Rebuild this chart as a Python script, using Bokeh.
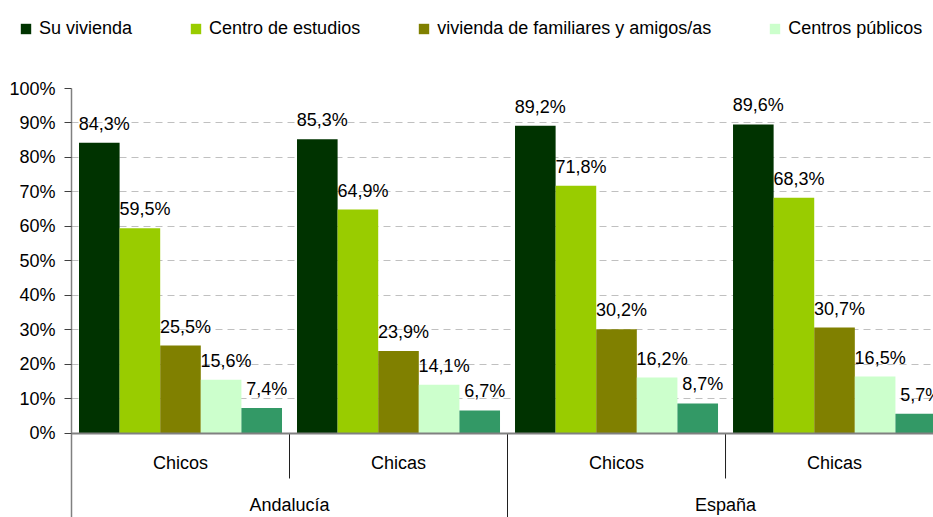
import numpy as np
from bokeh.plotting import figure
from bokeh.layouts import column
from bokeh.models import (ColumnDataSource, Range1d, FixedTicker, Span,
                          CustomJSTickFormatter, Legend, LegendItem)
from bokeh.core.properties import value
from bokeh.embed import file_html
from bokeh.resources import INLINE

# ---- data ----
regions = ["Andalucía", "España"]
sexes = ["Chicos", "Chicas", "Chicos", "Chicas"]
series_names = ["Su vivienda", "Centro de estudios", "vivienda de familiares y amigos/as",
                "Centros públicos", "Otros"]
su_vivienda = [84.3, 85.3, 89.2, 89.6]
centro_estudios = [59.5, 64.9, 71.8, 68.3]
vivienda_familiares = [25.5, 23.9, 30.2, 30.7]
centros_publicos = [15.6, 14.1, 16.2, 16.5]
otros = [7.4, 6.7, 8.7, 5.7]
y_ticks = [0, 10, 20, 30, 40, 50, 60, 70, 80, 90, 100]

series_values = [su_vivienda, centro_estudios, vivienda_familiares, centros_publicos, otros]
colors = ["#003300", "#99cc00", "#808000", "#ccffcc", "#339966"]
n_legend = 4  # only the first four entries are visible in the original

FONT = "Liberation Sans"
FS = "18px"

W = 933
TOP_H = 76
H = 441

# ---- legend strip ----
top = figure(width=W, height=TOP_H, output_backend="svg", toolbar_location=None,
             x_range=Range1d(0, 1), y_range=Range1d(0, 1),
             x_axis_location=None, y_axis_location=None, min_border=0)
top.outline_line_color = None
top.grid.visible = False
try:
    top.frame_align = False
except Exception:
    pass
items = []
for name, col in list(zip(series_names, colors))[:n_legend]:
    r = top.vbar(x=[0], top=[0], bottom=[0], width=0.001, fill_color=col, line_color=None)
    items.append(LegendItem(label=name, renderers=[r]))
lg = Legend(items=items, orientation="horizontal", location=(19, 37),
            padding=0, margin=0, spacing=57, glyph_width=13, glyph_height=13,
            label_standoff=7, border_line_color=None, background_fill_alpha=0,
            label_text_font=FONT, label_text_font_size=FS, label_text_color="black")
top.add_layout(lg, "center")

# ---- chart ----
p = figure(width=W, height=H, output_backend="svg", toolbar_location=None,
           x_range=Range1d(0, 3.954), y_range=Range1d(-24.35, 100),
           x_axis_location=None, min_border_left=71, min_border_top=12,
           min_border_right=0, min_border_bottom=0)
p.outline_line_color = None
try:
    p.frame_align = False
except Exception:
    pass

ya = p.yaxis[0]
ya.ticker = FixedTicker(ticks=y_ticks, minor_ticks=[])
ya.formatter = CustomJSTickFormatter(code="return tick.toFixed(0) + '%';")
ya.major_label_text_font = FONT
ya.major_label_text_font_size = FS
ya.major_label_text_color = "black"
ya.major_label_standoff = 9
ya.major_tick_out = 7
ya.major_tick_in = 0
ya.major_tick_line_color = "#404040"
ya.axis_line_color = "#808080"
ya.axis_line_width = 1.5
ya.minor_tick_line_color = None

p.xgrid.visible = False
p.ygrid.ticker = FixedTicker(ticks=y_ticks[1:])
p.ygrid.grid_line_color = "#c0c0c0"
p.ygrid.grid_line_dash = "7 5"
p.ygrid.grid_line_width = 1

n_series = len(series_values)
pad = 7.5 / 218
bw = (1 - 2 * pad) / n_series
cat_idx = np.arange(len(sexes))
for j, (vals, col) in enumerate(zip(series_values, colors)):
    xs = cat_idx + pad + (j + 0.5) * bw
    src = ColumnDataSource(dict(x=xs, top=vals,
                                lbl=[f"{v:.1f}%".replace(".", ",") for v in vals]))
    p.vbar(x="x", top="top", bottom=0, width=bw, source=src, fill_color=col,
           line_color=None)
    p.text(x="x", y="top", text="lbl", source=src, text_align="center",
           text_baseline="bottom", x_offset=5, y_offset=-9,
           text_font=value(FONT), text_font_size=value(FS), text_color="black")

p.add_layout(Span(location=0, dimension="width", line_color="#808080", line_width=2))

px_per_unit = (433 - 88) / 100.0
inner_sep = [0, 1, 2, 3, 4]
p.segment(x0=inner_sep, x1=inner_sep, y0=[0] * 5, y1=[-45 / px_per_unit] * 5,
          line_color="#202020", line_width=1)
outer_sep = [2, 4]
p.segment(x0=outer_sep, x1=outer_sep, y0=[0] * 2, y1=[-30] * 2,
          line_color="#202020", line_width=1)
p.text(x=cat_idx + 0.5, y=[0] * 4, text=sexes, text_align="center",
       text_baseline="middle", y_offset=30,
       text_font=value(FONT), text_font_size=value(FS), text_color="black")
p.text(x=[1, 3], y=[0, 0], text=regions, text_align="center",
       text_baseline="middle", y_offset=72,
       text_font=value(FONT), text_font_size=value(FS), text_color="black")

layout = column(top, p, spacing=0)
open("out.html", "w").write(file_html(layout, INLINE))
